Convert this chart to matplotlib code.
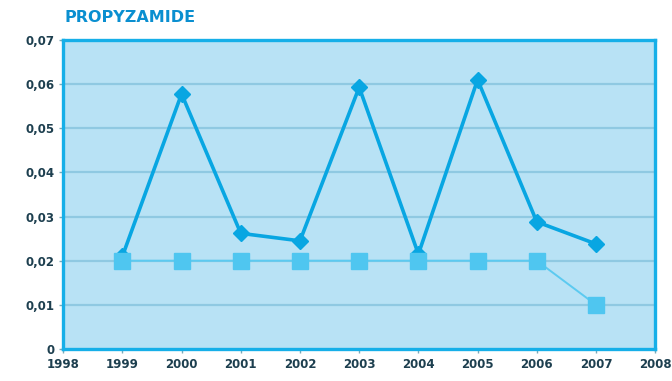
import matplotlib
matplotlib.use("Agg")
import matplotlib.pyplot as plt

years = [1999, 2000, 2001, 2002, 2003, 2004, 2005, 2006, 2007]
measured = [0.021, 0.0578, 0.0262, 0.0245, 0.0593, 0.0215, 0.061, 0.0288, 0.0238]
limit = [0.02, 0.02, 0.02, 0.02, 0.02, 0.02, 0.02, 0.02, 0.01]

yticks = [0, 0.01, 0.02, 0.03, 0.04, 0.05, 0.06, 0.07]
ytick_labels = ["0", "0,01", "0,02", "0,03", "0,04", "0,05", "0,06", "0,07"]
xticks = list(range(1998, 2009))

fig = plt.figure(figsize=(6.72, 3.81), dpi=100)
ax = fig.add_axes([0.094, 0.084, 0.881, 0.811])
ax.set_facecolor("#b8e2f5")

for y in yticks[1:]:
    ax.axhline(y, color="#8fc9e2", linewidth=1.6, zorder=1)

# limit line underneath, its square markers drawn over the measured series
ax.plot(years, limit, color="#5ccaf0", linewidth=1.4, zorder=2)
ax.plot(years, measured, color="#08a6e2", linewidth=2.6, marker="D", markersize=8.5,
        markerfacecolor="#08a6e2", markeredgecolor="#08a6e2", zorder=3)
ax.plot(years, limit, linestyle="none", marker="s", markersize=11,
        markerfacecolor="#4fc6f0", markeredgecolor="#4fc6f0", zorder=4)

ax.set_xlim(1998, 2008)
ax.set_ylim(0, 0.07)
ax.set_yticks(yticks)
ax.set_yticklabels(ytick_labels)
ax.set_xticks(xticks)

for side in ["left", "right", "top", "bottom"]:
    ax.spines[side].set_color("#16afe8")
    ax.spines[side].set_linewidth(2.4)

ax.tick_params(axis="both", colors="#7aa9b8", length=3, width=1,
               labelcolor="#1d3f4f", labelsize=8.5)
for lbl in ax.get_xticklabels() + ax.get_yticklabels():
    lbl.set_fontweight("bold")

fig.text(0.096, 0.935, "PROPYZAMIDE", color="#0a8fd0", fontsize=11.5,
         fontweight="heavy", ha="left", va="bottom")

fig.savefig("out.png", dpi=100)
